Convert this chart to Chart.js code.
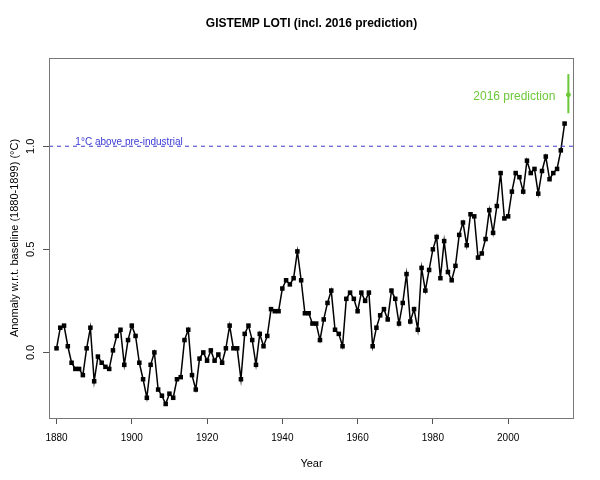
<!DOCTYPE html>
<html>
<head>
<meta charset="utf-8">
<script src="https://cdn.jsdelivr.net/npm/chart.js@4/dist/chart.umd.min.js"></script>
<style>
  body { margin: 0; background: #fff; }
</style>
</head>
<body>
<canvas id="chart" width="600" height="480"></canvas>
<script>
// GISTEMP LOTI, anomaly w.r.t. 1880-1899 baseline
const firstYear = 1880;
const anomalies = [
    0.02, 0.12, 0.13, 0.03, -0.05, -0.08, -0.08, -0.11, 0.02, 0.12,   // 1880s
    -0.14, -0.02, -0.05, -0.07, -0.08, 0.01, 0.08, 0.11, -0.06, 0.06, // 1890s
    0.13, 0.08, -0.05, -0.13, -0.22, -0.06, 0.00, -0.18, -0.21, -0.25, // 1900s
    -0.20, -0.22, -0.13, -0.12, 0.06, 0.11, -0.11, -0.18, -0.03, 0.00, // 1910s
    -0.04, 0.01, -0.04, -0.01, -0.05, 0.02, 0.13, 0.02, 0.02, -0.13,  // 1920s
    0.09, 0.13, 0.06, -0.06, 0.09, 0.03, 0.08, 0.21, 0.20, 0.20,      // 1930s
    0.31, 0.35, 0.33, 0.36, 0.49, 0.35, 0.19, 0.19, 0.14, 0.14,       // 1940s
    0.06, 0.16, 0.24, 0.30, 0.11, 0.09, 0.03, 0.26, 0.29, 0.26,       // 1950s
    0.20, 0.29, 0.25, 0.29, 0.03, 0.12, 0.18, 0.21, 0.16, 0.30,       // 1960s
    0.26, 0.14, 0.24, 0.38, 0.15, 0.21, 0.11, 0.41, 0.30, 0.40,       // 1970s
    0.50, 0.56, 0.36, 0.54, 0.39, 0.35, 0.42, 0.57, 0.63, 0.52,       // 1980s
    0.67, 0.66, 0.46, 0.48, 0.55, 0.69, 0.58, 0.71, 0.87, 0.65,       // 1990s
    0.66, 0.78, 0.87, 0.85, 0.78, 0.93, 0.87, 0.89, 0.77, 0.88,       // 2000s
    0.95, 0.84, 0.87, 0.89, 0.98, 1.11                                // 2010s
];
const years = anomalies.map((v, i) => firstYear + i);

// 2016 prediction with its range
const predYear = 2016;
const predValue = 1.25;
const predLow = 1.16;
const predHigh = 1.35;

const refLevel = 1.0;
const refLabel = "1°C above pre-industrial";
const predLabel = "2016 prediction";

const xTicks = [1880, 1900, 1920, 1940, 1960, 1980, 2000];
const yTicks = [0, 0.5, 1.0];
const xMin = 1878, xMax = 2017.5;
const yMin = -0.318, yMax = 1.428;

const blue = "#3a3ad6";
const green = "#6cc838";
const axisGray = "#555";

// box round the plot + the two text notes
const extras = {
    id: "extras",
    afterDatasetsDraw(chart) {
        const {ctx, chartArea: a, scales: {x, y}} = chart;
        ctx.save();
        ctx.strokeStyle = "#777";
        ctx.lineWidth = 1;
        ctx.strokeRect(Math.round(a.left) + 0.5, Math.round(a.top) + 0.5,
            Math.round(a.right - a.left) - 1, Math.round(a.bottom - a.top));

        ctx.font = "10px 'Liberation Sans', Arial, sans-serif";
        ctx.fillStyle = blue;
        ctx.textAlign = "left";
        ctx.textBaseline = "alphabetic";
        ctx.fillText(refLabel, x.getPixelForValue(1885), y.getPixelForValue(refLevel) - 1);

        ctx.font = "12px 'Liberation Sans', Arial, sans-serif";
        ctx.fillStyle = green;
        ctx.textAlign = "right";
        ctx.textBaseline = "middle";
        ctx.fillText(predLabel, x.getPixelForValue(predYear) - 13, y.getPixelForValue(predValue) + 2);
        ctx.restore();
    }
};

new Chart(document.getElementById("chart"), {
    type: "scatter",
    data: {
        datasets: [
            {
                data: [{x: xMin, y: refLevel}, {x: xMax, y: refLevel}],
                showLine: true,
                borderColor: blue,
                borderWidth: 1,
                borderDash: [4, 4],
                pointRadius: 0
            },
            {
                data: years.map((yr, i) => ({x: yr, y: anomalies[i]})),
                showLine: true,
                borderColor: "#000",
                borderWidth: 1.5,
                backgroundColor: "#000",
                pointStyle: "rect",
                pointRadius: 3.2,
                pointBorderWidth: 0
            },
            {
                data: [{x: predYear, y: predLow}, {x: predYear, y: predHigh}],
                showLine: true,
                borderColor: green,
                borderWidth: 2,
                pointRadius: 0
            },
            {
                data: [{x: predYear, y: predValue}],
                backgroundColor: green,
                borderColor: green,
                pointRadius: 2
            }
        ]
    },
    options: {
        responsive: false,
        animation: false,
        layout: {padding: {left: 0, right: 26, top: 0, bottom: 0}},
        plugins: {
            legend: {display: false},
            tooltip: {enabled: false},
            title: {
                display: true,
                fullSize: false,
                text: "GISTEMP LOTI (incl. 2016 prediction)",
                color: "#000",
                font: {family: "'Liberation Sans', Arial, sans-serif", size: 12, weight: "bold"},
                padding: {top: 16, bottom: 27.6}
            }
        },
        scales: {
            x: {
                type: "linear",
                min: xMin,
                max: xMax,
                afterBuildTicks: s => { s.ticks = xTicks.map(v => ({value: v})); },
                afterFit: s => { s.height = 62; },
                grid: {drawOnChartArea: false, drawTicks: true, tickLength: 6, color: axisGray},
                border: {display: false},
                ticks: {
                    color: "#000",
                    padding: 8.5,
                    maxRotation: 0,
                    font: {family: "'Liberation Sans', Arial, sans-serif", size: 10},
                    callback: v => String(v)
                },
                title: {
                    display: true,
                    text: "Year",
                    color: "#000",
                    font: {family: "'Liberation Sans', Arial, sans-serif", size: 11},
                    padding: {top: 4, bottom: 9.5}
                }
            },
            y: {
                type: "linear",
                min: yMin,
                max: yMax,
                afterBuildTicks: s => { s.ticks = yTicks.map(v => ({value: v})); },
                afterFit: s => { s.width = 49; },
                grid: {drawOnChartArea: false, drawTicks: true, tickLength: 6, color: axisGray},
                border: {display: false},
                ticks: {
                    color: "#000",
                    padding: 4,
                    minRotation: 90,
                    maxRotation: 90,
                    crossAlign: "center",
                    font: {family: "'Liberation Sans', Arial, sans-serif", size: 11},
                    callback: v => v.toFixed(1)
                },
                title: {
                    display: true,
                    text: "Anomaly w.r.t. baseline (1880-1899) (°C)",
                    color: "#000",
                    font: {family: "'Liberation Sans', Arial, sans-serif", size: 11},
                    padding: {top: 8.4, bottom: 0}
                }
            }
        }
    },
    plugins: [extras]
});
</script>
</body>
</html>
